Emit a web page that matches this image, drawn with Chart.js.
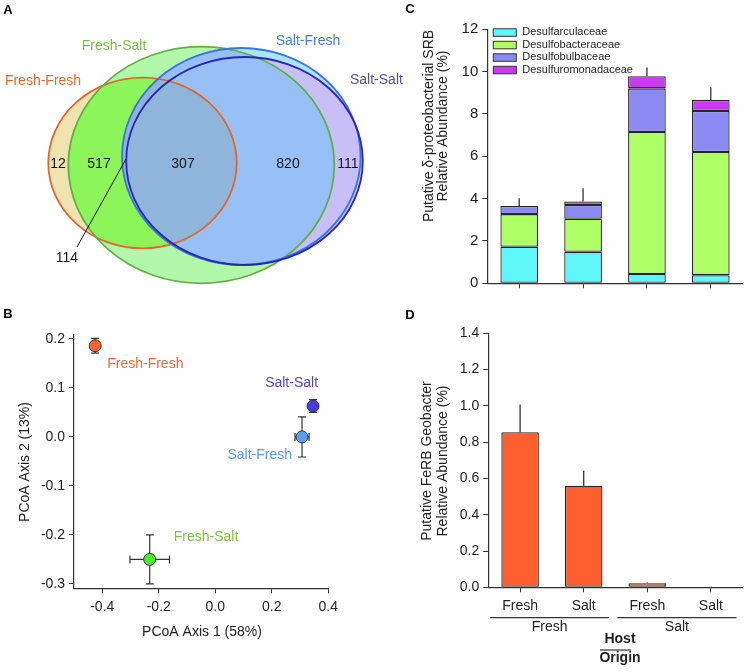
<!DOCTYPE html>
<html>
<head>
<meta charset="utf-8">
<script src="https://cdn.jsdelivr.net/npm/chart.js@4.4.0/dist/chart.umd.min.js"></script>
<style>
  body { margin: 0; background: #fff; }
  #wrap { position: relative; width: 746px; height: 672px; overflow: hidden; }
  canvas { position: absolute; }
  #venn { left: 0; top: 0; }
  #pcoa { left: 0; top: 300px; }
  #srb { left: 380px; top: 0; }
  #ferb { left: 380px; top: 300px; }
</style>
</head>
<body>
<div id="wrap">
  <canvas id="venn" width="420" height="300"></canvas>
  <canvas id="pcoa" width="380" height="372"></canvas>
  <canvas id="srb" width="366" height="300"></canvas>
  <canvas id="ferb" width="366" height="372"></canvas>
</div>
<script>
// ---- A: shared OTUs (Venn)
const vennSets = ['Fresh-Fresh', 'Fresh-Salt', 'Salt-Fresh', 'Salt-Salt'];
const vennCounts = [12, 517, 307, 820, 111, 114];

// ---- B: PCoA
const pcoaGroups = ['Fresh-Fresh', 'Fresh-Salt', 'Salt-Fresh', 'Salt-Salt'];
const pcoaAxis1 = [-0.425, -0.232, 0.307, 0.346];
const pcoaAxis2 = [0.186, -0.25, 0.0, 0.063];
const pcoaErr1 = [0.008, 0.07, 0.025, 0.008];
const pcoaErr2 = [0.015, 0.05, 0.041, 0.013];
const pcoaXTicks = [-0.4, -0.2, 0.0, 0.2, 0.4];
const pcoaYTicks = [-0.3, -0.2, -0.1, 0.0, 0.1, 0.2];

// ---- C: SRB stacked bars
const srbFamilies = ['Desulfarculaceae', 'Desulfobacteraceae', 'Desulfobulbaceae', 'Desulfuromonadaceae'];
const desulfarculaceae = [1.73, 1.49, 0.44, 0.38];
const desulfobacteraceae = [1.54, 1.56, 6.71, 5.82];
const desulfobulbaceae = [0.38, 0.65, 2.06, 1.94];
const desulfuromonadaceae = [0.0, 0.17, 0.57, 0.52];
const srbErr = [0.37, 0.62, 0.42, 0.6];
const srbYTicks = [0, 2, 4, 6, 8, 10, 12];

// ---- D: FeRB Geobacter
const hostLabels = ['Fresh', 'Salt', 'Fresh', 'Salt'];
const originLabels = ['Fresh', 'Salt'];
const geobacter = [0.855, 0.56, 0.022, 0.003];
const geobacterErr = [0.153, 0.083, 0.004, 0.001];
const ferbYTicks = [0, 0.2, 0.4, 0.6, 0.8, 1.0, 1.2, 1.4];

// ---- styles / layout
const FONT = '"Liberation Sans", Arial, Helvetica, sans-serif';
Chart.defaults.font.family = FONT;
Chart.defaults.color = '#1e1e1e';
const AXIS = '#333';

// venn geometry, in panel pixels (x right, y down)
const vennShapes = [
  { cx: 142.5, cy: 163, rx: 94.2, ry: 85.3 },
  { cx: 201.3, cy: 165, rx: 133, ry: 118.3 },
  { cx: 241.3, cy: 156.5, rx: 119.3, ry: 108.5 },
  { cx: 244.5, cy: 161, rx: 118.3, ry: 104 }
];
const vennStroke = ['#e2672a', '#62b043', '#3d73e8', '#2626b8'];
const vennLabelColor = ['#e26a30', '#78c040', '#4a7ae8', '#5a4ab8'];
const vennLabelPos = [[43, 81, 'center'], [114, 46, 'center'], [308, 41, 'center'], [350, 80, 'left']];
const vennCountPos = [[58, 164], [99, 164], [183, 164], [288, 164], [348, 164], [67, 258]];

const pcoaColors = ['#f26430', '#48f02c', '#5a9ff0', '#4a3ae6'];
const pcoaLabelColor = ['#ef6a32', '#7cc442', '#5b96ea', '#5646b8'];
const pcoaLabelOff = [[12, 18, 'left'], [24, -22, 'left'], [-10, 18, 'right'], [5, -23, 'right']];

const srbColors = ['#5ef8fb', '#aeff66', '#8a8af2', '#c83cef'];
const ferbColor = '#ff5f2e';

function textPlugin(items) {
  return {
    id: 'textLayer',
    afterDraw(chart) {
      const ctx = chart.ctx;
      items.forEach(t => {
        ctx.save();
        ctx.font = t.font || ('14px ' + FONT);
        ctx.fillStyle = t.color || '#1e1e1e';
        ctx.textAlign = t.align || 'center';
        ctx.textBaseline = 'middle';
        ctx.translate(t.x, t.y);
        if (t.rotate) ctx.rotate(t.rotate);
        ctx.fillText(t.text, 0, 0);
        ctx.restore();
      });
    }
  };
}

function axisStyle(extra) {
  return Object.assign({
    grid: { drawOnChartArea: false, drawTicks: true, tickLength: 5, tickColor: AXIS, tickWidth: 1 },
    border: { display: true, color: AXIS, width: 1.2 },
    ticks: { font: { size: 14 }, color: '#1e1e1e', padding: 4 }
  }, extra);
}

// ---------------- A
const vennPlugin = {
  id: 'venn',
  beforeDatasetsDraw(chart) {
    const { ctx, scales: { x, y } } = chart;
    const path = s => {
      const px = x.getPixelForValue(s.cx), py = y.getPixelForValue(s.cy);
      const rx = x.getPixelForValue(s.cx + s.rx) - px;
      const ry = Math.abs(y.getPixelForValue(s.cy + s.ry) - py);
      ctx.beginPath();
      ctx.ellipse(px, py, rx, ry, 0, 0, Math.PI * 2);
    };
    const fill = (s, c) => { path(s); ctx.fillStyle = c; ctx.fill(); };
    const [ff, fs, sf, ss] = vennShapes;
    ctx.save();
    fill(fs, '#b2f8aa');
    fill(ff, '#efe3b0');
    ctx.save(); path(fs); ctx.clip(); fill(ff, '#8cf55a'); ctx.restore();
    fill(sf, '#aae6f8');
    fill(ss, '#c8bef8');
    ctx.save(); path(fs); ctx.clip(); fill(sf, '#97c0f6'); fill(ss, '#97c0f6'); ctx.restore();
    ctx.save(); path(ff); ctx.clip(); fill(sf, '#8fb6da'); fill(ss, '#8fb6da'); ctx.restore();
    ctx.lineWidth = 1.8;
    [ff, fs, sf, ss].forEach((s, i) => { path(s); ctx.strokeStyle = vennStroke[i]; ctx.stroke(); });
    // leader for 114
    ctx.beginPath();
    ctx.moveTo(x.getPixelForValue(77), y.getPixelForValue(247));
    ctx.lineTo(x.getPixelForValue(126), y.getPixelForValue(159));
    ctx.strokeStyle = '#111'; ctx.lineWidth = 1; ctx.stroke();
    ctx.restore();
  }
};

const vennTexts = [{ text: 'A', x: 8, y: 10, font: 'bold 13px ' + FONT, color: '#000' }];
vennSets.forEach((s, i) => vennTexts.push({ text: s, x: vennLabelPos[i][0], y: vennLabelPos[i][1], align: vennLabelPos[i][2], color: vennLabelColor[i] }));
vennCounts.forEach((n, i) => vennTexts.push({ text: String(n), x: vennCountPos[i][0], y: vennCountPos[i][1], color: '#151515' }));

new Chart(document.getElementById('venn'), {
  type: 'scatter',
  data: { datasets: [{ data: [] }] },
  options: {
    responsive: false, animation: false, events: [],
    layout: { padding: 0 },
    plugins: { legend: { display: false }, tooltip: { enabled: false } },
    scales: {
      x: { display: false, min: 0, max: 420 },
      y: { display: false, min: 0, max: 300, reverse: true }
    }
  },
  plugins: [vennPlugin, textPlugin(vennTexts)]
});

// ---------------- B
const pcoaErrorBars = {
  id: 'pcoaErr',
  beforeDatasetsDraw(chart) {
    const { ctx, scales: { x, y } } = chart;
    ctx.save();
    ctx.strokeStyle = '#333'; ctx.lineWidth = 1.2;
    const cap = 4;
    pcoaAxis1.forEach((vx, i) => {
      const vy = pcoaAxis2[i];
      const px = x.getPixelForValue(vx), py = y.getPixelForValue(vy);
      const y0 = y.getPixelForValue(vy - pcoaErr2[i]), y1 = y.getPixelForValue(vy + pcoaErr2[i]);
      const x0 = x.getPixelForValue(vx - pcoaErr1[i]), x1 = x.getPixelForValue(vx + pcoaErr1[i]);
      ctx.beginPath();
      ctx.moveTo(px, y0); ctx.lineTo(px, y1);
      ctx.moveTo(px - cap, y0); ctx.lineTo(px + cap, y0);
      ctx.moveTo(px - cap, y1); ctx.lineTo(px + cap, y1);
      ctx.moveTo(x0, py); ctx.lineTo(x1, py);
      ctx.moveTo(x0, py - cap); ctx.lineTo(x0, py + cap);
      ctx.moveTo(x1, py - cap); ctx.lineTo(x1, py + cap);
      ctx.stroke();
    });
    ctx.restore();
  }
};
const pcoaLabels = {
  id: 'pcoaLabels',
  afterDatasetsDraw(chart) {
    const { ctx, scales: { x, y } } = chart;
    ctx.save();
    ctx.font = '14px ' + FONT;
    ctx.textBaseline = 'middle';
    pcoaGroups.forEach((g, i) => {
      const o = pcoaLabelOff[i];
      ctx.fillStyle = pcoaLabelColor[i];
      ctx.textAlign = o[2];
      ctx.fillText(g, x.getPixelForValue(pcoaAxis1[i]) + o[0], y.getPixelForValue(pcoaAxis2[i]) + o[1]);
    });
    ctx.restore();
  }
};

new Chart(document.getElementById('pcoa'), {
  type: 'scatter',
  data: {
    datasets: [{
      data: pcoaAxis1.map((v, i) => ({ x: v, y: pcoaAxis2[i] })),
      pointBackgroundColor: pcoaColors,
      pointBorderColor: '#333',
      pointBorderWidth: 1,
      pointRadius: 6
    }]
  },
  options: {
    responsive: false, animation: false, events: [],
    layout: { padding: { left: 0, right: 51.7, top: 35, bottom: 0 } },
    plugins: { legend: { display: false }, tooltip: { enabled: false } },
    scales: {
      x: axisStyle({
        min: -0.5, max: 0.4,
        afterBuildTicks: s => { s.ticks = pcoaXTicks.map(v => ({ value: v })); },
        afterFit: s => { s.height = 83.7; },
        ticks: { font: { size: 14 }, color: '#1e1e1e', padding: 5, callback: v => v.toFixed(1) }
      }),
      y: axisStyle({
        min: -0.309, max: 0.208,
        afterBuildTicks: s => { s.ticks = pcoaYTicks.map(v => ({ value: v })); },
        afterFit: s => { s.width = 74; },
        ticks: { font: { size: 14 }, color: '#1e1e1e', padding: 4, callback: v => v.toFixed(1) }
      })
    }
  },
  plugins: [pcoaErrorBars, pcoaLabels, textPlugin([
    { text: 'B', x: 8, y: 14, font: 'bold 13px ' + FONT, color: '#000' },
    { text: 'PCoA Axis 1 (58%)', x: 202, y: 332 },
    { text: 'PCoA Axis 2 (13%)', x: 25, y: 162, rotate: -Math.PI / 2 }
  ])]
});

// ---------------- C
const srbSeries = [desulfarculaceae, desulfobacteraceae, desulfobulbaceae, desulfuromonadaceae];
const srbErrorBars = {
  id: 'srbErr',
  afterDatasetsDraw(chart) {
    const { ctx, scales: { x, y } } = chart;
    ctx.save();
    ctx.strokeStyle = '#333'; ctx.lineWidth = 1.3;
    srbErr.forEach((e, i) => {
      const total = srbSeries.reduce((a, s) => a + s[i], 0);
      const px = x.getPixelForValue(i);
      ctx.beginPath();
      ctx.moveTo(px, y.getPixelForValue(total));
      ctx.lineTo(px, y.getPixelForValue(total + e));
      ctx.stroke();
    });
    ctx.restore();
  }
};
const srbLegend = {
  id: 'srbLegend',
  afterDraw(chart) {
    const { ctx, chartArea } = chart;
    ctx.save();
    ctx.font = '11px ' + FONT;
    ctx.textBaseline = 'middle';
    ctx.textAlign = 'left';
    chart.data.datasets.forEach((ds, i) => {
      const bx = chartArea.left + 6, by = chartArea.top + 3 + i * 12.5;
      ctx.fillStyle = ds.backgroundColor;
      ctx.fillRect(bx, by - 3.5, 23, 7.5);
      ctx.strokeStyle = '#333'; ctx.lineWidth = 1;
      ctx.strokeRect(bx, by - 3.5, 23, 7.5);
      ctx.fillStyle = '#1e1e1e';
      ctx.fillText(ds.label, bx + 29, by);
    });
    ctx.restore();
  }
};

new Chart(document.getElementById('srb'), {
  type: 'bar',
  data: {
    labels: hostLabels,
    datasets: srbFamilies.map((name, i) => ({
      label: name,
      data: srbSeries[i],
      backgroundColor: srbColors[i],
      borderColor: '#262626',
      borderWidth: 1.3,
      borderSkipped: false,
      barPercentage: 0.59,
      categoryPercentage: 1
    }))
  },
  options: {
    responsive: false, animation: false, events: [],
    layout: { padding: { left: 0, right: 3.3, top: 29.3, bottom: 0 } },
    plugins: { legend: { display: false }, tooltip: { enabled: false } },
    scales: {
      x: axisStyle({
        stacked: true, offset: true,
        grid: { offset: false, drawOnChartArea: false, drawTicks: true, tickLength: 5, tickColor: AXIS },
        ticks: { display: false },
        afterFit: s => { s.height = 16.7; }
      }),
      y: axisStyle({
        stacked: true, min: 0, max: 12,
        afterBuildTicks: s => { s.ticks = srbYTicks.map(v => ({ value: v })); },
        afterFit: s => { s.width = 107.3; },
        ticks: { font: { size: 15 }, color: '#1e1e1e', padding: 4 }
      })
    }
  },
  plugins: [srbErrorBars, srbLegend, textPlugin([
    { text: 'C', x: 30, y: 9, font: 'bold 13px ' + FONT, color: '#000' },
    { text: 'Putative \u03b4-proteobacterial SRB', x: 49, y: 126, rotate: -Math.PI / 2 },
    { text: 'Relative Abundance (%)', x: 63, y: 126, rotate: -Math.PI / 2 }
  ])]
});

// ---------------- D
const ferbErrorBars = {
  id: 'ferbErr',
  afterDatasetsDraw(chart) {
    const { ctx, scales: { x, y } } = chart;
    ctx.save();
    ctx.strokeStyle = '#333'; ctx.lineWidth = 1.3;
    geobacterErr.forEach((e, i) => {
      const px = x.getPixelForValue(i);
      ctx.beginPath();
      ctx.moveTo(px, y.getPixelForValue(geobacter[i]));
      ctx.lineTo(px, y.getPixelForValue(geobacter[i] + e));
      ctx.stroke();
    });
    ctx.restore();
  }
};
const originGroups = {
  id: 'originGroups',
  afterDraw(chart) {
    const { ctx, scales: { x } } = chart;
    const step = x.getPixelForValue(1) - x.getPixelForValue(0);
    ctx.save();
    ctx.strokeStyle = '#333'; ctx.lineWidth = 1.2;
    ctx.font = '14px ' + FONT;
    ctx.fillStyle = '#1e1e1e';
    ctx.textAlign = 'center'; ctx.textBaseline = 'middle';
    originLabels.forEach((lab, g) => {
      const a = x.getPixelForValue(g * 2) - step * 0.47;
      const b = x.getPixelForValue(g * 2 + 1) + step * 0.4;
      ctx.beginPath(); ctx.moveTo(a, 317.7); ctx.lineTo(b, 317.7); ctx.stroke();
      ctx.fillText(lab, (a + b) / 2, 327);
    });
    ctx.font = 'bold 14px ' + FONT;
    ctx.fillText('Host', 240, 339.5);
    ctx.beginPath(); ctx.moveTo(220, 350); ctx.lineTo(251, 350); ctx.stroke();
    ctx.fillText('Origin', 240, 358.5);
    ctx.restore();
  }
};

new Chart(document.getElementById('ferb'), {
  type: 'bar',
  data: {
    labels: hostLabels,
    datasets: [{
      label: 'Geobacter',
      data: geobacter,
      backgroundColor: ferbColor,
      borderColor: '#262626',
      borderWidth: 1.3,
      borderSkipped: false,
      barPercentage: 0.59,
      categoryPercentage: 1
    }]
  },
  options: {
    responsive: false, animation: false, events: [],
    layout: { padding: { left: 0, right: 3.3, top: 33.3, bottom: 0 } },
    plugins: { legend: { display: false }, tooltip: { enabled: false } },
    scales: {
      x: axisStyle({
        offset: true,
        grid: { offset: false, drawOnChartArea: false, drawTicks: true, tickLength: 5, tickColor: AXIS },
        ticks: { font: { size: 14 }, color: '#1e1e1e', padding: 5, maxRotation: 0, autoSkip: false },
        afterFit: s => { s.height = 84.7; }
      }),
      y: axisStyle({
        min: 0, max: 1.4,
        afterBuildTicks: s => { s.ticks = ferbYTicks.map(v => ({ value: v })); },
        afterFit: s => { s.width = 108.3; },
        ticks: { font: { size: 14 }, color: '#1e1e1e', padding: 4, callback: v => v.toFixed(1) }
      })
    }
  },
  plugins: [ferbErrorBars, originGroups, textPlugin([
    { text: 'D', x: 30, y: 15, font: 'bold 13px ' + FONT, color: '#000' },
    { text: 'Putative FeRB Geobacter', x: 47, y: 161, rotate: -Math.PI / 2 },
    { text: 'Relative Abundance (%)', x: 63, y: 161, rotate: -Math.PI / 2 }
  ])]
});
</script>
</body>
</html>
